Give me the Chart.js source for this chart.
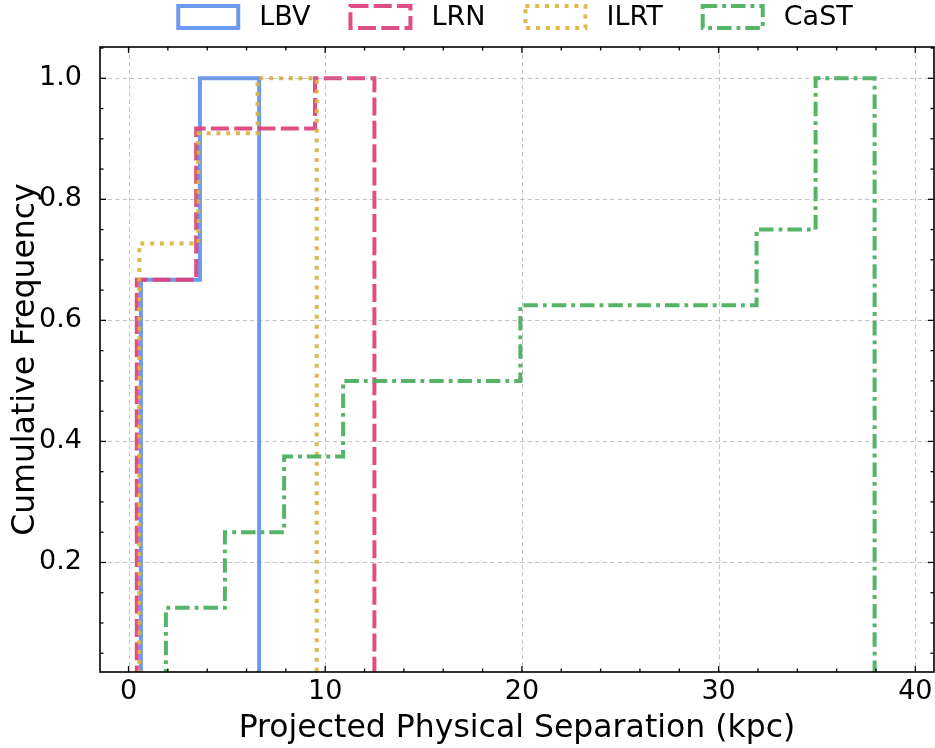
<!DOCTYPE html>
<html>
<head>
<meta charset="utf-8">
<script src="https://cdn.jsdelivr.net/npm/chart.js@4.4.1/dist/chart.umd.min.js"></script>
<style>
  html, body { margin: 0; padding: 0; background: #ffffff; }
  #wrap { width: 935px; height: 748px; position: relative; }
</style>
</head>
<body>
<div id="wrap"><canvas id="c" width="935" height="748"></canvas></div>
<script>
// Cumulative step histograms of projected separation (kpc), bin width ~3 kpc.
const seriesNames = ['LBV', 'LRN', 'ILRT', 'CaST'];

const lbvEdges = [0.63, 3.63, 6.64];
const lbvCum   = [0.667, 1.0];

const lrnEdges = [0.42, 3.44, 6.46, 9.48, 12.50];
const lrnCum   = [0.667, 0.917, 0.917, 1.0];

const ilrtEdges = [0.55, 3.55, 6.56, 9.57];
const ilrtCum   = [0.727, 0.909, 1.0];

const castEdges = [1.90, 4.90, 7.91, 10.91, 13.91, 16.91, 19.92, 22.92, 25.92, 28.92, 31.93, 34.93, 37.93];
const castCum   = [0.125, 0.25, 0.375, 0.5, 0.5, 0.5, 0.625, 0.625, 0.625, 0.625, 0.75, 1.0];

const xTicks = [0, 10, 20, 30, 40];
const yTicks = [0.2, 0.4, 0.6, 0.8, 1.0];

const FONT = "'DejaVu Sans', 'Liberation Sans', sans-serif";

// Outline of a step histogram: up from zero at the first edge, across each bin, down at the last edge.
function stepOutline(edges, cum) {
  const pts = [{ x: edges[0], y: 0 }];
  for (let i = 0; i < cum.length; i++) {
    pts.push({ x: edges[i], y: cum[i] });
    pts.push({ x: edges[i + 1], y: cum[i] });
  }
  pts.push({ x: edges[edges.length - 1], y: 0 });
  return pts;
}

const styles = [
  { color: 'rgba(100,149,237,0.95)', dash: [] },
  { color: 'rgba(221,66,124,0.93)', dash: [18, 5.3] },
  { color: 'rgba(220,180,64,0.93)', dash: [4, 5.8] },
  { color: 'rgba(72,174,92,0.93)', dash: [14.5, 5, 3.8, 5] }
];
const edgesList = [lbvEdges, lrnEdges, ilrtEdges, castEdges];
const cumList = [lbvCum, lrnCum, ilrtCum, castCum];

const datasets = seriesNames.map((name, i) => ({
  label: name,
  data: stepOutline(edgesList[i], cumList[i]),
  borderColor: styles[i].color,
  borderDash: styles[i].dash,
  borderWidth: 4,
  borderCapStyle: 'butt',
  borderJoinStyle: 'miter',
  pointRadius: 0,
  fill: false,
  tension: 0,
  order: seriesNames.length - i
}));

// Grid (dashed, drawn over the steps), frame with inward ticks on all sides, and the legend row.
const framePlugin = {
  id: 'frame',
  afterDatasetsDraw(chart) {
    const { ctx, chartArea: a, scales: { x, y } } = chart;
    ctx.save();
    ctx.beginPath();
    ctx.rect(a.left, a.top, a.right - a.left, a.bottom - a.top);
    ctx.clip();
    ctx.strokeStyle = 'rgba(150,150,150,0.55)';
    ctx.lineWidth = 1;
    ctx.setLineDash([4.5, 3]);
    xTicks.forEach(v => {
      const px = Math.round(x.getPixelForValue(v)) + 0.5;
      ctx.beginPath(); ctx.moveTo(px, a.top); ctx.lineTo(px, a.bottom); ctx.stroke();
    });
    yTicks.forEach(v => {
      const py = Math.round(y.getPixelForValue(v)) + 0.5;
      ctx.beginPath(); ctx.moveTo(a.left, py); ctx.lineTo(a.right, py); ctx.stroke();
    });
    ctx.restore();

    ctx.save();
    ctx.setLineDash([]);
    ctx.strokeStyle = '#000000';
    // tick marks
    const major = 6, minor = 3.5;
    ctx.lineWidth = 1.3;
    const tickX = (v, len) => {
      const px = x.getPixelForValue(v);
      ctx.beginPath(); ctx.moveTo(px, a.bottom); ctx.lineTo(px, a.bottom - len); ctx.stroke();
      ctx.beginPath(); ctx.moveTo(px, a.top); ctx.lineTo(px, a.top + len); ctx.stroke();
    };
    const tickY = (v, len) => {
      const py = y.getPixelForValue(v);
      ctx.beginPath(); ctx.moveTo(a.left, py); ctx.lineTo(a.left + len, py); ctx.stroke();
      ctx.beginPath(); ctx.moveTo(a.right, py); ctx.lineTo(a.right - len, py); ctx.stroke();
    };
    xTicks.forEach(v => tickX(v, major));
    for (let v = Math.ceil(x.min / 2) * 2; v <= x.max; v += 2) {
      if (v % 10 !== 0) tickX(v, minor);
    }
    yTicks.forEach(v => tickY(v, major));
    for (let k = Math.ceil(y.min / 0.05); k * 0.05 <= y.max; k++) {
      if (k % 4 !== 0) tickY(k * 0.05, minor);
    }
    // spines
    ctx.lineWidth = 1.6;
    ctx.strokeRect(a.left, a.top, a.right - a.left, a.bottom - a.top);
    ctx.restore();
  },
  afterDraw(chart) {
    const { ctx, chartArea: a } = chart;
    ctx.save();
    ctx.font = '27px ' + FONT;
    const boxW = 60, boxH = 22, gapText = 21, gapItem = 40, cy = 17;
    const widths = seriesNames.map(n => ctx.measureText(n).width);
    const total = widths.reduce((s, w) => s + boxW + gapText + w, 0) + gapItem * (seriesNames.length - 1);
    let cx = (a.left + a.right) / 2 - 1.5 - total / 2;
    chart.data.datasets.forEach((ds, i) => {
      ctx.lineWidth = ds.borderWidth;
      ctx.strokeStyle = ds.borderColor;
      ctx.setLineDash(ds.borderDash);
      ctx.lineCap = 'butt';
      ctx.strokeRect(cx, cy - boxH / 2, boxW, boxH);
      ctx.setLineDash([]);
      ctx.fillStyle = '#000000';
      ctx.textAlign = 'left';
      ctx.textBaseline = 'middle';
      ctx.fillText(ds.label, cx + boxW + gapText, cy + 1);
      cx += boxW + gapText + widths[i] + gapItem;
    });
    ctx.restore();
  }
};

new Chart(document.getElementById('c'), {
  type: 'line',
  data: { datasets },
  options: {
    responsive: false,
    animation: false,
    devicePixelRatio: 1,
    layout: { padding: { left: 0, right: 1, top: 47, bottom: 0 } },
    plugins: { legend: { display: false }, tooltip: { enabled: false } },
    scales: {
      x: {
        type: 'linear',
        min: -1.45,
        max: 40.95,
        grid: { display: false },
        border: { display: false },
        afterBuildTicks: s => { s.ticks = xTicks.map(v => ({ value: v })); },
        afterFit: s => { s.height = 76; },
        ticks: {
          font: { family: FONT, size: 27 },
          color: '#000000',
          padding: -4,
          maxRotation: 0
        },
        title: {
          display: true,
          text: 'Projected Physical Separation (kpc)',
          font: { family: FONT, size: 31.5 },
          color: '#000000',
          padding: { top: 13, bottom: 0 }
        }
      },
      y: {
        type: 'linear',
        min: 0.019,
        max: 1.0517,
        grid: { display: false },
        border: { display: false },
        afterBuildTicks: s => { s.ticks = yTicks.map(v => ({ value: v })); },
        afterFit: s => { s.width = 100; },
        ticks: {
          font: { family: FONT, size: 27 },
          color: '#000000',
          padding: 10,
          callback: v => v.toFixed(1)
        },
        title: {
          display: true,
          text: 'Cumulative Frequency',
          font: { family: FONT, size: 31.5 },
          color: '#000000',
          padding: { top: 7, bottom: 0 }
        }
      }
    }
  },
  plugins: [framePlugin]
});
</script>
</body>
</html>
